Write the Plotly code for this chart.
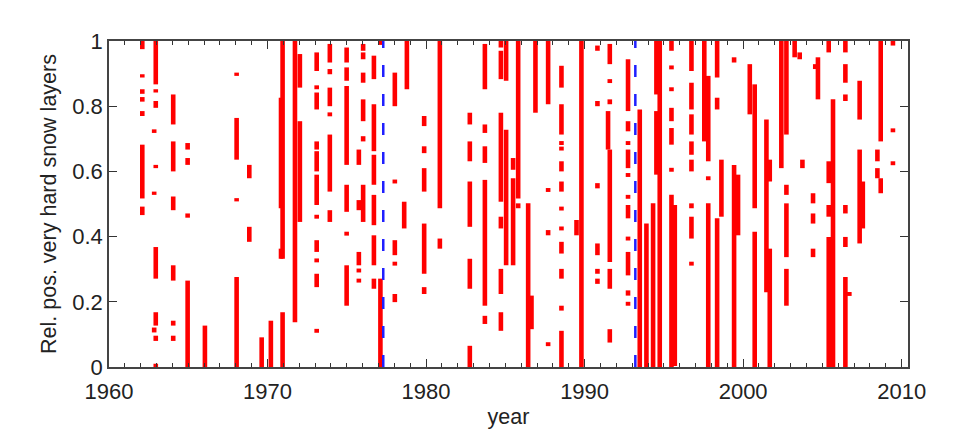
import plotly.graph_objects as go

# Column positions (decimal year) and their vertical red segments (lo, hi)
col_years = [
    1962.10, 1962.85, 1962.95, 1964.05, 1964.96, 1966.05,
    1968.05, 1968.85, 1969.63, 1970.21, 1970.85, 1970.95, 1971.73, 1972.04,
    1973.10, 1973.93, 1974.99, 1975.76, 1976.03, 1976.71, 1977.12, 1978.03,
    1978.62, 1978.79, 1979.88, 1980.87, 1982.76, 1983.71, 1984.72,
    1985.05, 1985.49, 1985.81, 1986.44, 1986.65, 1986.90, 1987.70, 1988.54,
    1989.49, 1989.80, 1990.81, 1991.48, 1991.59, 1992.74, 1993.48, 1993.90,
    1994.32, 1994.53, 1994.74, 1995.48, 1995.69, 1996.74, 1997.55, 1997.80,
    1998.36, 1998.63, 1999.43, 1999.68, 2000.42, 2000.73, 2001.47, 2001.68,
    2002.41, 2002.73, 2003.25, 2003.57, 2003.74, 2004.41, 2004.55, 2004.72,
    2005.40, 2005.67, 2006.45, 2006.70, 2007.35, 2007.55, 2008.47, 2008.68,
    2009.45,
]

col_segments = [
    [(0.975, 1.0), (0.888, 0.898), (0.838, 0.852), (0.814, 0.828), (0.770, 0.785), (0.517, 0.682), (0.466, 0.492)],
    [(0.718, 0.729), (0.528, 0.538), (0.106, 0.121)],
    [(0.867, 1.0), (0.842, 0.852), (0.795, 0.816), (0.610, 0.620), (0.271, 0.368), (0.127, 0.168), (0.080, 0.096), (0.0, 0.010)],
    [(0.744, 0.836), (0.600, 0.692), (0.481, 0.523), (0.265, 0.312), (0.127, 0.142), (0.080, 0.096)],
    [(0.667, 0.687), (0.620, 0.641), (0.458, 0.471), (0.0, 0.265)],
    [(0.0, 0.127)],
    [(0.893, 0.903), (0.636, 0.764), (0.508, 0.518), (0.0, 0.276)],
    [(0.579, 0.620), (0.384, 0.430)],
    [(0.0, 0.091)],
    [(0.0, 0.142)],
    [(0.487, 0.826), (0.332, 0.363)],
    [(0.332, 1.0), (0.0, 0.168)],
    [(0.137, 1.0)],
    [(0.857, 0.960), (0.445, 0.754)],
    [(0.908, 0.965), (0.852, 0.864), (0.790, 0.842), (0.667, 0.692), (0.600, 0.662), (0.497, 0.590), (0.455, 0.467), (0.353, 0.389), (0.321, 0.333), (0.245, 0.286), (0.105, 0.117)],
    [(0.934, 0.991), (0.898, 0.914), (0.800, 0.857), (0.769, 0.781), (0.538, 0.713), (0.445, 0.481)],
    [(0.934, 0.980), (0.878, 0.919), (0.620, 0.862), (0.476, 0.559), (0.403, 0.415), (0.188, 0.312)],
    [(0.620, 0.667), (0.481, 0.512), (0.312, 0.353), (0.290, 0.302), (0.259, 0.271)],
    [(0.970, 0.991), (0.944, 0.965), (0.872, 0.903), (0.754, 0.821), (0.692, 0.708), (0.445, 0.559)],
    [(0.883, 0.955), (0.662, 0.806), (0.559, 0.651), (0.435, 0.528), (0.312, 0.404), (0.240, 0.271)],
    [(0.988, 1.0), (0.0, 0.271)],
    [(0.800, 0.903), (0.563, 0.575), (0.343, 0.389), (0.311, 0.323), (0.199, 0.224)],
    [(0.425, 0.507)],
    [(0.852, 1.0)],
    [(0.739, 0.770), (0.656, 0.677), (0.538, 0.610), (0.286, 0.440), (0.224, 0.245)],
    [(0.487, 1.0), (0.363, 0.394)],
    [(0.744, 0.780), (0.631, 0.692), (0.430, 0.569), (0.240, 0.332), (0.0, 0.065)],
    [(0.852, 0.991), (0.718, 0.744), (0.626, 0.677), (0.188, 0.574), (0.132, 0.157)],
    [(0.980, 1.0), (0.883, 0.970), (0.507, 0.780), (0.425, 0.461), (0.224, 0.301), (0.111, 0.168)],
    [(0.878, 1.0), (0.312, 0.728)],
    [(0.312, 0.579), (0.605, 0.641)],
    [(0.517, 1.0), (0.487, 0.502)],
    [(0.0, 0.502)],
    [(0.116, 0.219)],
    [(0.780, 1.0)],
    [(0.806, 1.0), (0.537, 0.549), (0.404, 0.420), (0.064, 0.076)],
    [(0.857, 0.924), (0.713, 0.806), (0.681, 0.693), (0.664, 0.676), (0.600, 0.631), (0.538, 0.569), (0.480, 0.492), (0.419, 0.431), (0.348, 0.384), (0.271, 0.301), (0.173, 0.188), (0.0, 0.111)],
    [(0.404, 0.451)],
    [(0.0, 1.0)],
    [(0.970, 0.986), (0.800, 0.816), (0.548, 0.564), (0.343, 0.379), (0.286, 0.301), (0.255, 0.271)],
    [(0.667, 0.785)],
    [(0.929, 0.991), (0.871, 0.883), (0.806, 0.821), (0.322, 0.667), (0.240, 0.301), (0.075, 0.116)],
    [(0.785, 0.944), (0.723, 0.754), (0.681, 0.693), (0.610, 0.667), (0.583, 0.595), (0.516, 0.528), (0.456, 0.497), (0.388, 0.400), (0.281, 0.353), (0.219, 0.235), (0.188, 0.200)],
    [(0.0, 0.790)],
    [(0.0, 0.440)],
    [(0.0, 0.502)],
    [(0.836, 1.0), (0.590, 0.785)],
    [(0.0, 1.0)],
    [(0.970, 1.0), (0.913, 0.925), (0.846, 0.858), (0.754, 0.795), (0.682, 0.733), (0.599, 0.611), (0.0, 0.528)],
    [(0.003, 0.497)],
    [(0.908, 1.0), (0.790, 0.872), (0.713, 0.775), (0.651, 0.692), (0.600, 0.636), (0.487, 0.502), (0.394, 0.461), (0.311, 0.323)],
    [(0.692, 1.0)],
    [(0.631, 0.893), (0.573, 0.585), (0.0, 0.502)],
    [(0.888, 1.0), (0.790, 0.826), (0.0, 0.456)],
    [(0.461, 0.636)],
    [(0.934, 0.950), (0.0, 0.620)],
    [(0.404, 0.590)],
    [(0.775, 0.929)],
    [(0.487, 0.867), (0.0, 0.415)],
    [(0.229, 0.759)],
    [(0.0, 0.363), (0.569, 0.636)],
    [(0.610, 1.0)],
    [(0.713, 1.0), (0.528, 0.559), (0.337, 0.502), (0.188, 0.301)],
    [(0.950, 1.0)],
    [(0.944, 0.965)],
    [(0.610, 0.636)],
    [(0.502, 0.533), (0.440, 0.471), (0.337, 0.363)],
    [(0.914, 0.929)],
    [(0.821, 0.950)],
    [(0.965, 1.0), (0.564, 0.631), (0.461, 0.497), (0.0, 0.399)],
    [(0.0, 0.821)],
    [(0.965, 1.0), (0.872, 0.929), (0.816, 0.836), (0.471, 0.497), (0.368, 0.399), (0.0, 0.276)],
    [(0.218, 0.230)],
    [(0.759, 0.878), (0.379, 0.667)],
    [(0.425, 0.569)],
    [(0.631, 0.667), (0.579, 0.610)],
    [(0.692, 1.0), (0.533, 0.579)],
    [(0.986, 1.0), (0.720, 0.732), (0.619, 0.631)],
]

marker_years = [1977.3, 1993.2]   # blue dashed reference lines

x_range = [1960, 2010.4]
y_ticks = [0, 0.2, 0.4, 0.6, 0.8, 1]
y_tick_text = ["0", "0.2", "0.4", "0.6", "0.8", "1"]
x_ticks = [1960, 1970, 1980, 1990, 2000, 2010]

# build the red trace
xs, ys = [], []
for yr, segs in zip(col_years, col_segments):
    for lo, hi in segs:
        xs += [yr, yr, None]
        ys += [lo, hi, None]

fig = go.Figure()
fig.add_trace(go.Scatter(x=xs, y=ys, mode="lines",
                         line=dict(color="#ff0000", width=4.6),
                         hoverinfo="skip", showlegend=False))
for my in marker_years:
    fig.add_trace(go.Scatter(x=[my, my], y=[0, 1], mode="lines",
                             line=dict(color="#1f1fff", width=2.5, dash="12px,17px"),
                             hoverinfo="skip", showlegend=False))

tick_font = dict(family="Liberation Sans, Arial, sans-serif", size=22, color="#222222")
title_font = dict(family="Liberation Sans, Arial, sans-serif", size=21.5, color="#222222")
fig.update_layout(
    width=966, height=437,
    margin=dict(l=101, r=66, t=33, b=78),
    paper_bgcolor="white", plot_bgcolor="white",
    font=tick_font,
    xaxis=dict(range=x_range, tickvals=x_ticks, ticks="inside", ticklen=8,
               tickwidth=1, tickcolor="#333333", showgrid=False, zeroline=False,
               showline=True, linecolor="#444444", linewidth=1.5, mirror="ticks",
               minor=dict(dtick=1, tick0=1960, ticks="inside", ticklen=4,
                          tickcolor="#333333", tickwidth=1, showgrid=False),
               title=dict(text="year", font=title_font, standoff=6),
               ticklabelstandoff=4,
               tickfont=tick_font),
    yaxis=dict(range=[0, 1], tickvals=y_ticks, ticktext=y_tick_text, ticks="inside",
               ticklen=8, tickwidth=1, tickcolor="#333333", showgrid=False,
               zeroline=False, showline=True, linecolor="#444444", linewidth=1.5,
               mirror="ticks",
               title=dict(text="Rel. pos. very hard snow layers", font=title_font, standoff=10),
               tickfont=tick_font),
)

fig.write_html("out.html")
